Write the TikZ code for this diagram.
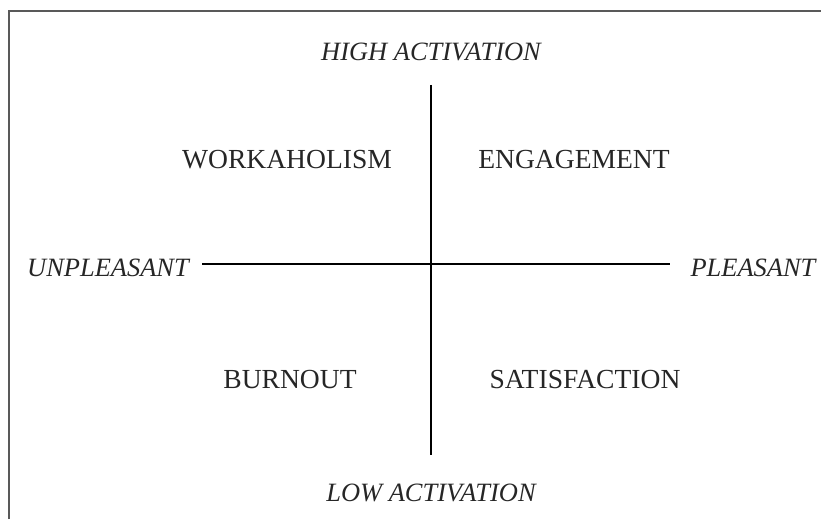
\documentclass[tikz,border=0pt]{standalone}
\usepackage{fontspec}
\setmainfont{Liberation Serif}
\usepackage{tikz}

\begin{document}
\begin{tikzpicture}[x=0.025cm, y=0.025cm,
        every node/.style={text=black!85}]
        \tikzstyle{axisLabel} = [font=\fontsize{18.8}{21}\selectfont\itshape]
        \tikzstyle{quadLabel} = [font=\fontsize{19.6}{22}\selectfont]
        \tikzstyle{axisEdge} = [draw=black, line width=1.4pt]
        \useasboundingbox (0,0) rectangle (821,519);
        % frame
        \draw[black!65, line width=1.3pt] (9,0) -- (9,508) -- (821,508);
        \node[axisLabel] (high) at (431,467) {HIGH ACTIVATION};
        \node[axisLabel] (low) at (431,26) {LOW ACTIVATION};
        \node[axisLabel] (unpl) at (108,251) {UNPLEASANT};
        \node[axisLabel] (pl) at (753,251) {PLEASANT};
        \node[quadLabel] (work) at (287,359) {WORKAHOLISM};
        \node[quadLabel] (eng) at (574,359) {ENGAGEMENT};
        \node[quadLabel] (burn) at (290,139) {BURNOUT};
        \node[quadLabel] (sat) at (585,139) {SATISFACTION};
        \coordinate (top) at (431,434);
        \coordinate (bot) at (431,64);
        \coordinate (left) at (202,255);
        \coordinate (right) at (670,255);
        \foreach \from/\to in {top/bot, left/right}
            \path[axisEdge] (\from) edge (\to);
    \end{tikzpicture}
\end{document}
